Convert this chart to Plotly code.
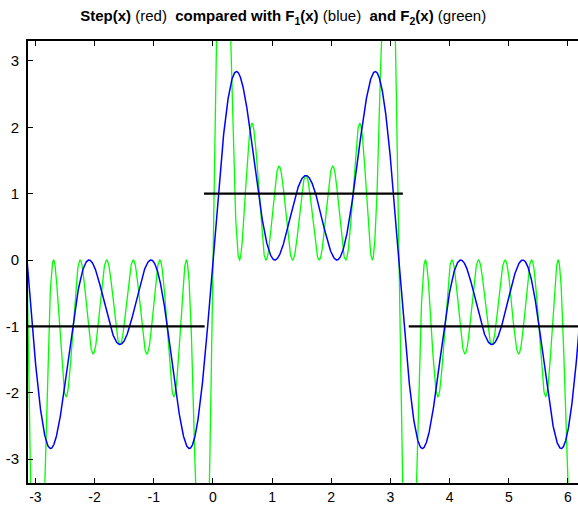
import numpy as np
import plotly.graph_objects as go

# --- data ---
# Partial sums of sine harmonics (peaks/zeros read from the picture match these)
harmonics_F1 = [1, 3, 5]
harmonics_F2 = [1, 3, 5, 7, 9, 11, 13]
amplitude = 4 / np.pi
x_start, x_end = -np.pi, 2 * np.pi

# Step function segments (drawn in black)
step_x0 = [-np.pi, -0.15, 3.31]
step_x1 = [-0.14, 3.21, 2 * np.pi]
step_y = [-1, 1, -1]

x_ticks = [-3, -2, -1, 0, 1, 2, 3, 4, 5, 6]
y_ticks = [-3, -2, -1, 0, 1, 2, 3]

x = np.linspace(x_start, x_end, 3000)
F1 = sum(amplitude * np.sin(k * x) for k in harmonics_F1)
F2 = sum(amplitude * np.sin(k * x) for k in harmonics_F2)

fig = go.Figure()
fig.add_trace(go.Scatter(x=x, y=F2, mode="lines",
                         line=dict(color="#00ff00", width=1.3), showlegend=False))
fig.add_trace(go.Scatter(x=x, y=F1, mode="lines",
                         line=dict(color="#0000ff", width=1.5), showlegend=False))
for a, b, v in zip(step_x0, step_x1, step_y):
    fig.add_trace(go.Scatter(x=[a, b], y=[v, v], mode="lines",
                             line=dict(color="black", width=2.2), showlegend=False))

title = ("<b>Step(x)</b> (red)&nbsp; <b>compared with F<sub>1</sub>(x)</b> (blue)&nbsp; "
         "<b>and F<sub>2</sub>(x)</b> (green)")

fig.update_layout(
    width=578, height=505,
    margin=dict(l=28, r=0, t=41, b=22, pad=0),
    paper_bgcolor="white", plot_bgcolor="white",
    font=dict(family="Liberation Sans, Arial, sans-serif", size=14, color="black"),
    title=dict(text=title, x=0.49, xanchor="center", y=0.968, yanchor="middle",
               automargin=False,
               font=dict(family="Liberation Sans, Arial, sans-serif", size=15, color="black")),
    xaxis=dict(range=[-3.125, 6.17], tickvals=x_ticks, ticktext=[str(t) for t in x_ticks],
               ticks="inside", ticklen=5, tickwidth=1, tickcolor="black",
               showline=True, linecolor="black", linewidth=2, mirror="ticks",
               showgrid=False, zeroline=False, ticklabelstandoff=0, automargin=False,
               tickfont=dict(size=14)),
    yaxis=dict(range=[-3.36, 3.30], tickvals=y_ticks, ticktext=[str(t) for t in y_ticks],
               ticks="inside", ticklen=5, tickwidth=1, tickcolor="black",
               showline=True, linecolor="black", linewidth=2, mirror=False,
               showgrid=False, zeroline=False, ticklabelstandoff=4, automargin=False,
               tickfont=dict(size=15)),
)

fig.write_html("out.html",
               config={"displayModeBar": False},
               post_script="document.body.style.margin='0';document.body.style.overflow='hidden';")
